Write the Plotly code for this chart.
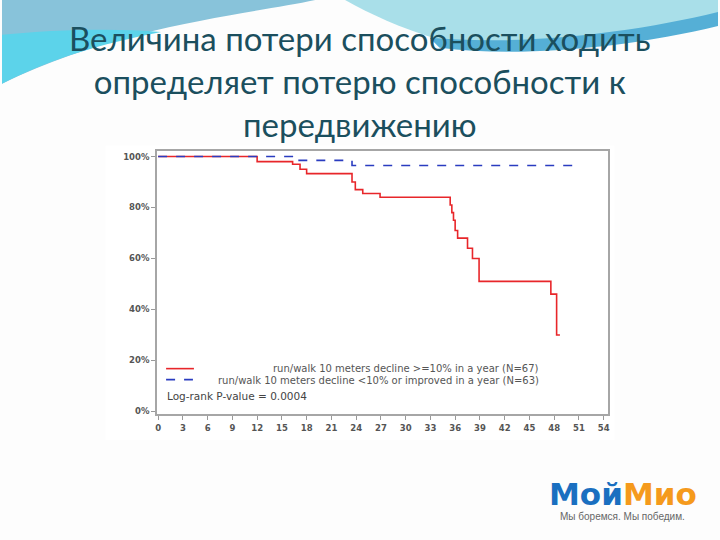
import plotly.graph_objects as go

W, H = 720, 540

# ---- data ----
red_t = [0, 12.0, 16.3, 17.2, 18.0, 23.5, 23.9, 24.8, 26.9, 35.4, 35.6, 35.8, 36.0, 36.3,
         37.5, 38.1, 38.9, 47.6, 48.3, 48.7]
red_s = [100, 98, 97, 95, 93.3, 90, 87, 85.5, 84, 81, 78, 75, 71, 68,
         64, 60, 51, 46, 30, 30]
blue_t = [0, 16.9, 23.5, 51.2]
blue_s = [100, 98.5, 96.5, 96.5]

x_ticks = list(range(0, 55, 3))
y_ticks = [0, 20, 40, 60, 80, 100]

red_label = "run/walk 10 meters decline >=10% in a year (N=67)"
blue_label = "run/walk 10 meters decline <10% or improved in a year (N=63)"
pvalue_label = "Log-rank P-value = 0.0004"
title_lines = ["Величина потери способности ходить",
               "определяет потерю способности к",
               "передвижению"]


def px(x):
    return x / W


def py(y):
    return 1 - y / H


fig = go.Figure()
fig.add_trace(go.Scatter(x=red_t, y=red_s, mode="lines", line_shape="hv",
                         line=dict(color="#e8262a", width=1.6), name=red_label,
                         showlegend=False))
fig.add_trace(go.Scatter(x=blue_t, y=blue_s, mode="lines", line_shape="hv",
                         line=dict(color="#2a3cc0", width=1.6, dash="dash"),
                         name=blue_label, showlegend=False))

shapes = []
# slide decoration (top swooshes)
shapes.append(dict(type="path", xref="paper", yref="paper", layer="below",
                   path=f"M {px(0)},{py(0)} L {px(315)},{py(0)} "
                        f"C {px(250)},{py(14)} {px(120)},{py(25)} {px(0)},{py(84)} Z",
                   fillcolor="#88c3da", line=dict(width=0)))
shapes.append(dict(type="path", xref="paper", yref="paper", layer="below",
                   path=f"M {px(0)},{py(35)} C {px(50)},{py(30)} {px(110)},{py(28)} {px(160)},{py(32)} "
                        f"C {px(100)},{py(44)} {px(50)},{py(58)} {px(0)},{py(84)} Z",
                   fillcolor="#5cd3ea", line=dict(width=0)))
shapes.append(dict(type="path", xref="paper", yref="paper", layer="below",
                   path=f"M {px(345)},{py(0)} L {px(720)},{py(0)} L {px(720)},{py(14)} "
                        f"C {px(620)},{py(38)} {px(520)},{py(44)} {px(440)},{py(40)} "
                        f"C {px(400)},{py(28)} {px(370)},{py(14)} {px(345)},{py(0)} Z",
                   fillcolor="#a9dfe9", line=dict(width=0)))
shapes.append(dict(type="path", xref="paper", yref="paper", layer="below",
                   path=f"M {px(430)},{py(38)} C {px(520)},{py(46)} {px(630)},{py(34)} {px(720)},{py(12)} "
                        f"L {px(720)},{py(26)} C {px(630)},{py(48)} {px(520)},{py(58)} {px(440)},{py(48)} Z",
                   fillcolor="#55afd6", line=dict(width=0)))
# white chart picture box
shapes.append(dict(type="rect", xref="paper", yref="paper", layer="below",
                   x0=px(104), x1=px(616), y0=py(442), y1=py(146),
                   fillcolor="white", line=dict(width=0)))
# legend samples
shapes.append(dict(type="line", xref="paper", yref="paper",
                   x0=px(165), x1=px(193), y0=py(370), y1=py(370),
                   line=dict(color="#e8262a", width=1.6)))
shapes.append(dict(type="line", xref="paper", yref="paper",
                   x0=px(165), x1=px(192), y0=py(381), y1=py(381),
                   line=dict(color="#2a3cc0", width=1.6, dash="dash")))

legend_font = dict(family="DejaVu Sans", size=10, color="#555555")
annotations = [
    dict(text="<br>".join(title_lines), xref="paper", yref="paper", x=0.5, y=py(81),
         xanchor="center", yanchor="middle", showarrow=False,
         font=dict(family="Lato", size=33, color="#1b4f5e")),
    dict(text=red_label, xref="paper", yref="paper", x=px(542), y=py(370),
         xanchor="right", yanchor="middle", showarrow=False, font=legend_font),
    dict(text=blue_label, xref="paper", yref="paper", x=px(542), y=py(382),
         xanchor="right", yanchor="middle", showarrow=False, font=legend_font),
    dict(text=pvalue_label, xref="paper", yref="paper", x=px(164), y=py(397),
         xanchor="left", yanchor="middle", showarrow=False,
         font=dict(family="DejaVu Sans", size=10.5, color="#444444")),
    dict(text="<b><span style='color:#1a6fc0'>Мой</span><span style='color:#f59a1c'>Мио</span></b>",
         xref="paper", yref="paper", x=px(624), y=py(496), xanchor="center", yanchor="middle",
         showarrow=False, font=dict(family="DejaVu Sans", size=31)),
    dict(text="Мы боремся. Мы победим.", xref="paper", yref="paper", x=px(624), y=py(518),
         xanchor="center", yanchor="middle", showarrow=False,
         font=dict(family="Liberation Sans", size=10, color="#666666")),
]

tick_font = dict(family="DejaVu Sans", size=8.5, color="#555555")
fig.update_layout(
    width=W, height=H,
    margin=dict(l=0, r=0, t=0, b=0),
    paper_bgcolor="#fdfdfd", plot_bgcolor="white",
    shapes=shapes, annotations=annotations,
    xaxis=dict(domain=[px(156), px(609)], range=[-0.12, 54.48],
               tickmode="array", tickvals=x_ticks,
               ticktext=[f"<b>{v}</b>" for v in x_ticks],
               ticks="outside", ticklen=4,
               tickcolor="#999999", showgrid=False, zeroline=False,
               showline=True, linecolor="#a6a6a6", linewidth=2, mirror=True,
               tickfont=tick_font),
    yaxis=dict(domain=[py(416), py(152)], range=[-1.2, 102],
               tickmode="array", tickvals=y_ticks,
               ticktext=[f"<b>{v}%</b>" for v in y_ticks], ticks="outside",
               ticklen=4, tickcolor="#999999", showgrid=False, zeroline=False,
               showline=True, linecolor="#a6a6a6", linewidth=2, mirror=True,
               tickfont=tick_font),
)

fig.write_html("out.html", config={"displayModeBar": False},
               post_script="document.body.style.margin='0';document.body.style.overflow='hidden';")
